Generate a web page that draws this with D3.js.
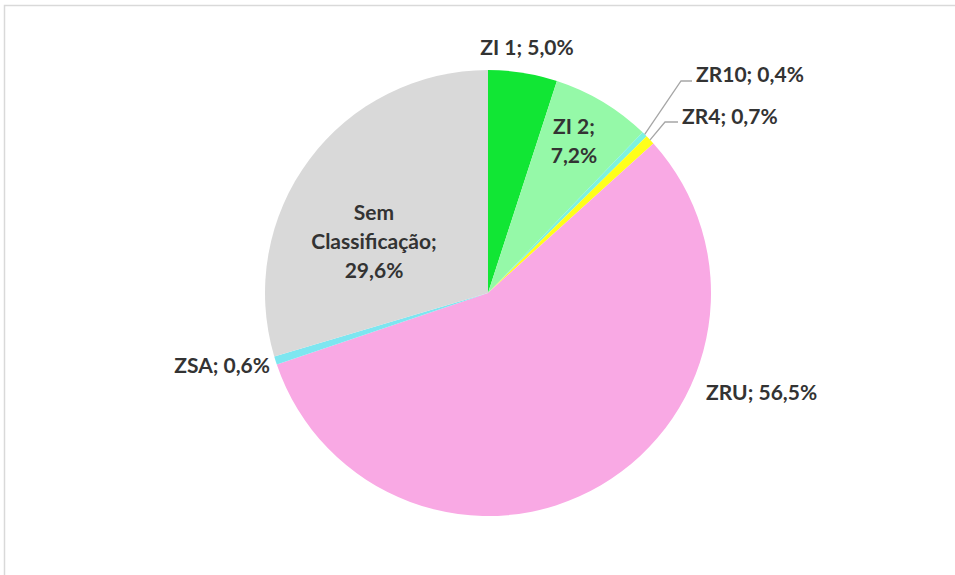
<!DOCTYPE html>
<html>
<head>
<meta charset="utf-8">
<script src="https://cdn.jsdelivr.net/npm/d3@7"></script>
<style>
  body { margin: 0; background: #fff; }
  text { font-family: Lato, "Open Sans", sans-serif; font-weight: bold; fill: #333; }
</style>
</head>
<body>
<div id="chart"></div>
<script>
var categories = ['ZI 1', 'ZI 2', 'ZR10', 'ZR4', 'ZRU', 'ZSA', 'Sem Classificação'];
var values = [5.0, 7.2, 0.4, 0.7, 56.5, 0.6, 29.6];
var colors = ['#11e634', '#95f9a8', '#7df2e0', '#ffff1a', '#f9a9e4', '#7de6f0', '#d9d9d9'];

var width = 955, height = 575;
var cx = 488, cy = 293, radius = 223;

var svg = d3.select('#chart').append('svg')
    .attr('width', width)
    .attr('height', height);

// chart area border (only top/left show in the window)
svg.append('rect')
    .attr('x', 4.5).attr('y', 5.5)
    .attr('width', 1000).attr('height', 600)
    .attr('fill', 'none')
    .attr('stroke', '#d9d9d9')
    .attr('stroke-width', 1.5);

var data = categories.map(function(c, i){ return { name: c, value: values[i], color: colors[i] }; });

var pie = d3.pie().sort(null).value(function(d){ return d.value; });
var arc = d3.arc().innerRadius(0).outerRadius(radius);
var arcs = pie(data);

var g = svg.append('g').attr('transform', 'translate(' + cx + ',' + cy + ')');

g.selectAll('path.slice')
    .data(arcs)
    .enter()
    .append('path')
    .attr('class', 'slice')
    .attr('d', arc)
    .attr('fill', function(d){ return d.data.color; });

function fmt(v){ return v.toFixed(1).replace('.', ',') + '%'; }

// label placement: lines of text, centre of first line relative to pie centre, text-anchor
var labelCfg = {
    'ZI 1':  { lines: function(d){ return [d.name + '; ' + fmt(d.value)]; }, x: 39, y: -245, anchor: 'middle' },
    'ZI 2':  { lines: function(d){ return [d.name + ';', fmt(d.value)]; }, x: 86, y: -166, anchor: 'middle' },
    'ZR10':  { lines: function(d){ return [d.name + '; ' + fmt(d.value)]; }, x: 208, y: -218, anchor: 'start', leader: [[193, -212], [204, -212]] },
    'ZR4':   { lines: function(d){ return [d.name + '; ' + fmt(d.value)]; }, x: 194, y: -176, anchor: 'start', leader: [[177, -171], [190, -171]] },
    'ZRU':   { lines: function(d){ return [d.name + '; ' + fmt(d.value)]; }, x: 218, y: 100, anchor: 'start' },
    'ZSA':   { lines: function(d){ return [d.name + '; ' + fmt(d.value)]; }, x: -218, y: 73, anchor: 'end' },
    'Sem Classificação': { lines: function(d){ return ['Sem', 'Classificação;', fmt(d.value)]; }, x: -114, y: -80, anchor: 'middle' }
};

var lineH = 29;

arcs.forEach(function(a){
    var cfg = labelCfg[a.data.name];
    if (cfg.leader) {
        var ang = (a.startAngle + a.endAngle) / 2;
        var p0 = [Math.sin(ang) * radius, -Math.cos(ang) * radius];
        var pts = [p0].concat(cfg.leader);
        g.append('path')
            .attr('d', d3.line()(pts))
            .attr('fill', 'none')
            .attr('stroke', '#a6a6a6')
            .attr('stroke-width', 1.3);
    }
    var t = g.append('text')
        .attr('text-anchor', cfg.anchor)
        .attr('font-size', '21px');
    cfg.lines(a.data).forEach(function(l, i){
        t.append('tspan')
            .attr('x', cfg.x)
            .attr('y', cfg.y + i * lineH)
            .attr('dy', '0.35em')
            .text(l);
    });
});
</script>
</body>
</html>
